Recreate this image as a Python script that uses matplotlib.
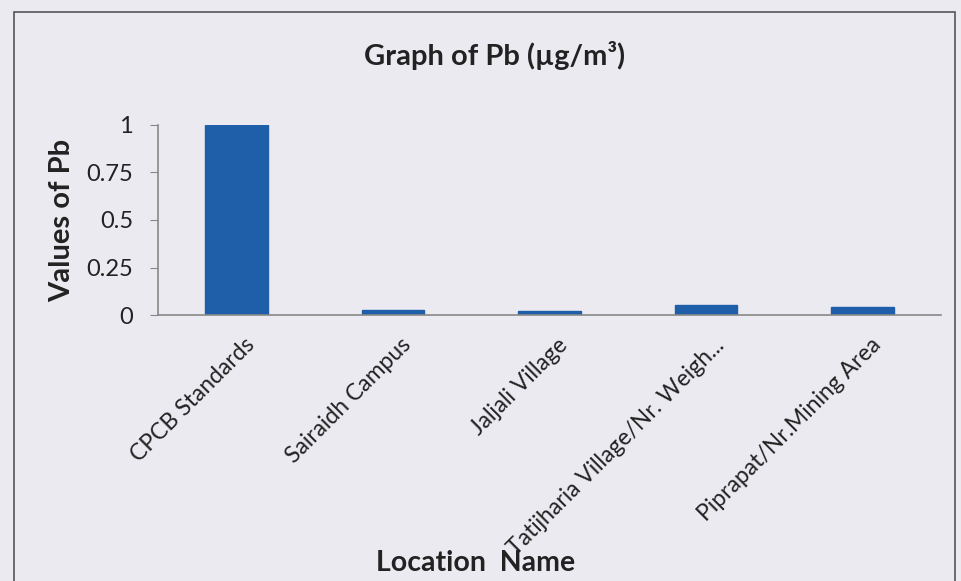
import matplotlib.pyplot as plt
import numpy as np

plt.rcParams['font.family'] = ['Lato', 'DejaVu Sans']

locations = ["CPCB Standards", "Sairaidh Campus", "Jaljali Village",
             "Tatijharia Village/Nr. Weigh...", "Piprapat/Nr.Mining Area"]
pb_values = [1.0, 0.025, 0.02, 0.055, 0.04]
yticks = [0, 0.25, 0.5, 0.75, 1]
ytick_labels = ["0", "0.25", "0.5", "0.75", "1"]

bg = '#ebeaf1'
fig = plt.figure(figsize=(9.61, 5.81), dpi=100, facecolor=bg)
ax = fig.add_axes([158/961, 1-315/581, (941-158)/961, (315-125)/581])
ax.set_facecolor(bg)

x = np.arange(len(locations))
ax.bar(x, pb_values, width=0.4, color='#1f5ea8', edgecolor='#1f5ea8')
ax.set_xlim(-0.5, len(locations)-0.5)
ax.set_ylim(0, 1)
ax.set_yticks(yticks)
ax.set_yticklabels(ytick_labels, fontsize=17, color='#222222')
ax.set_xticks(x + 0.05)
ax.set_xticklabels(locations, rotation=45, ha='right', rotation_mode='anchor',
                   fontsize=16.5, color='#222222')
ax.tick_params(axis='x', length=0, pad=14)
ax.tick_params(axis='y', length=6, color='#888888', pad=12)

for s in ['top', 'right']:
    ax.spines[s].set_visible(False)
for s in ['left', 'bottom']:
    ax.spines[s].set_color('#888888')
    ax.spines[s].set_linewidth(1.2)

fig.text(495/961, 1-55/581, "Graph of Pb (\u00b5g/m\u00b3)", ha='center', va='center',
         fontsize=21, fontweight='bold', color='#222222')
fig.text(62/961, 1-220/581, "Values of Pb", ha='center', va='center', rotation=90,
         fontsize=21, fontweight='bold', color='#222222')
fig.text(476/961, 1-563/581, "Location  Name", ha='center', va='center',
         fontsize=20.5, fontweight='bold', color='#222222')

# chart border (no bottom edge visible in the reference)
fig.add_artist(plt.Rectangle((14/961, -0.05), (955-14)/961, 1.05-12/581,
                             transform=fig.transFigure, fill=False,
                             edgecolor='#555555', linewidth=1.2))

fig.savefig("out.png", dpi=100, facecolor=bg)
